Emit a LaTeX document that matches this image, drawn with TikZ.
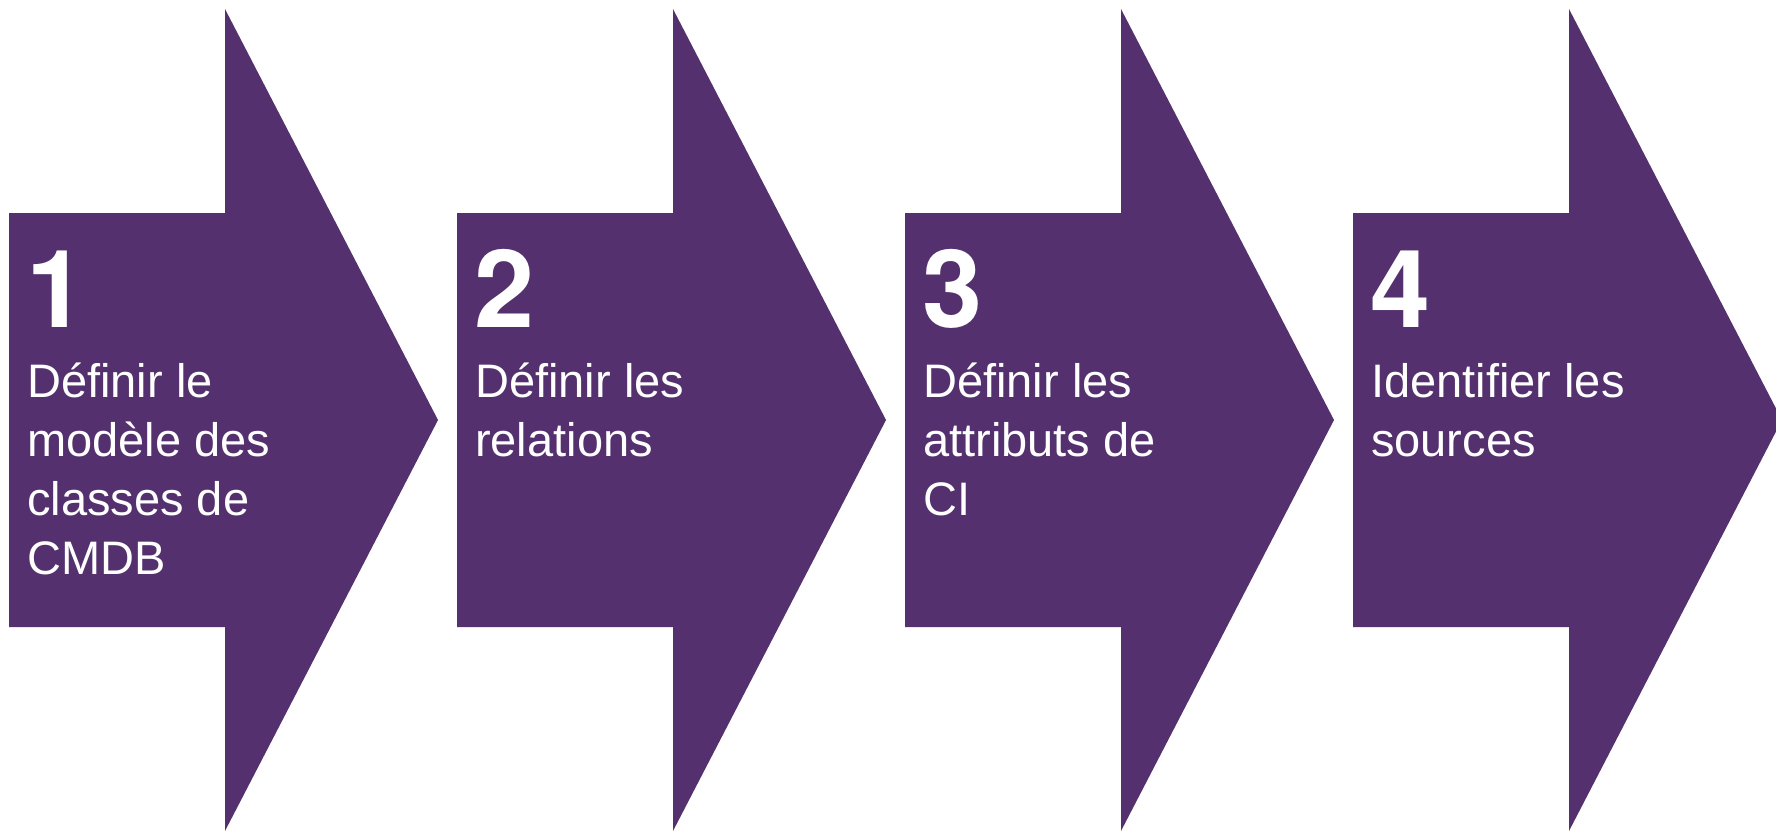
\documentclass[tikz,border=0pt]{standalone}
\usepackage{fontspec}
\setmainfont{Liberation Sans}
\newfontfamily\numfont{TeX Gyre Heros}
\usetikzlibrary{positioning}

\definecolor{stepfill}{RGB}{84,49,110}

\tikzset{
  stepnum/.style={text=white, font=\numfont\fontsize{108}{108}\selectfont\bfseries, inner sep=0pt, anchor=base west},
  steplabel/.style={text=white, font=\fontsize{47}{59}\selectfont, align=left, inner sep=0pt, anchor=base west}
}

\begin{document}
\begin{tikzpicture}[x=1pt,y=-1pt]
\useasboundingbox (0,0) rectangle (1776,832);
\clip (0,0) rectangle (1776,832);

% the four chevrons
\foreach \i in {0,1,2,3}
    \fill[stepfill] (9+448*\i,213) -- (225+448*\i,213) -- (225+448*\i,9)
        -- (438+448*\i,420) -- (225+448*\i,831) -- (225+448*\i,627)
        -- (9+448*\i,627) -- cycle;

% numbers
\foreach \i/\n in {0/1,1/2,2/3,3/4}
    \node[stepnum] (num\n) at (26+448*\i,327) {\n};

% texts (base = baseline of the last line)
\node[steplabel] (lab1) at (27,574) {Définir le\\modèle des\\classes de\\CMDB};
\node[steplabel] (lab2) at (475,456) {Définir les\\relations};
\node[steplabel] (lab3) at (923,515) {Définir les\\attributs de\\CI};
\node[steplabel] (lab4) at (1371,456) {Identifier les\\sources};

\end{tikzpicture}
\end{document}
